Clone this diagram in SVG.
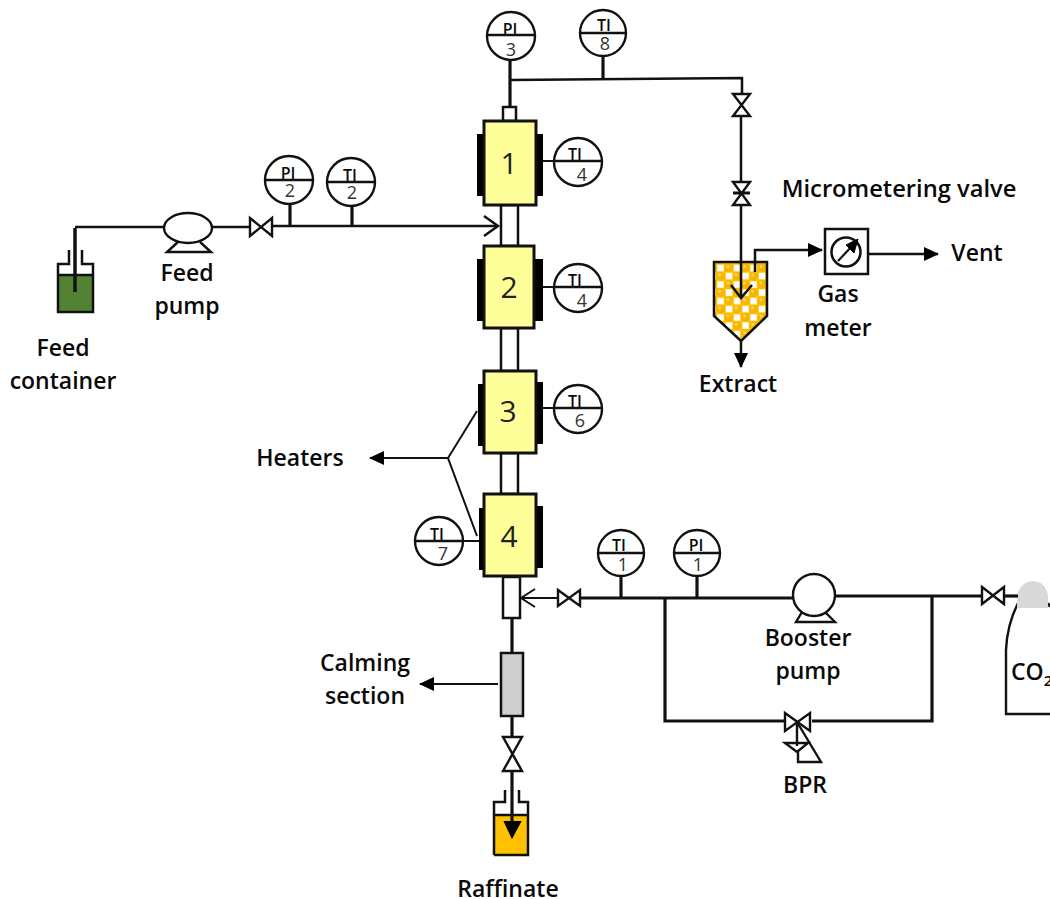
<svg xmlns="http://www.w3.org/2000/svg" width="1050" height="899" viewBox="0 0 1050 899">
<style>
text{font-family:"Open Sans","Noto Sans","DejaVu Sans",sans-serif;fill:#0a0a0a}
.lbl{font-size:23px;font-weight:600;text-anchor:middle}
.g{fill:#fff;stroke:#111;stroke-width:2.4}
.gl{stroke:#111;stroke-width:2.4;fill:none}
.gt{font-size:16px;font-weight:600;text-anchor:middle}
.gn{font-size:18px;text-anchor:middle;fill:#333}
.p{fill:none;stroke:#111;stroke-width:2.5}
.pb{fill:none;stroke:#111;stroke-width:3.2}
.t{fill:none;stroke:#111;stroke-width:2}
.v{fill:#fff;stroke:#111;stroke-width:2.4}
.box{fill:#ffff99;stroke:#111;stroke-width:3}
.tube{fill:#fff;stroke:#111;stroke-width:2.5}
.h{fill:#000}
.num{font-size:30px;text-anchor:middle;fill:#222}
</style>
<defs>
<marker id="ah" markerUnits="userSpaceOnUse" markerWidth="16" markerHeight="14" refX="14" refY="7" orient="auto"><path d="M0 0L15 7L0 14Z" fill="#000"/></marker>
<pattern id="chk" patternUnits="userSpaceOnUse" width="16.5" height="16.5" x="708.3" y="263.8">
<rect width="16.5" height="16.5" fill="#ffc000"/>
<rect x="9" y="1" width="6.5" height="6.5" fill="#fff"/>
<rect x="1" y="9" width="6.5" height="6.5" fill="#fff"/>
<circle cx="4.2" cy="4.2" r="4.4" fill="#f7b500"/>
<circle cx="12.4" cy="12.4" r="4.4" fill="#f7b500"/>
<circle cx="3.2" cy="2.8" r="1.4" fill="#ffdc7a"/>
<circle cx="11.4" cy="11" r="1.4" fill="#ffdc7a"/>
</pattern>
</defs>

<g id="feed-container">
<path d="M58 275H93V312H58Z" fill="#548235"/>
<path class="p" d="M58 275V312H93V275M58 275V264H69V250M82 250V264H93V275M58 275H93" stroke-width="2"/>
</g>
<g id="feed-pump">
<path class="v" d="M178 242L167 252H211L200 242"/>
<ellipse class="v" cx="188" cy="228" rx="24" ry="15"/>
</g>
<g id="valve-feed"><path class="v" d="M250 218L272 236V218L250 236Z"/></g>
<g id="gauge-pi2"><circle class="g" cx="289" cy="180" r="24"/><path class="gl" d="M265 180H313"/><text class="gt" x="288" y="179">PI</text><text class="gn" x="290" y="197">2</text></g>
<g id="gauge-ti2"><circle class="g" cx="351" cy="182" r="24"/><path class="gl" d="M327 182H375"/><text class="gt" x="350" y="181">TI</text><text class="gn" x="352" y="199">2</text></g>
<g id="gauge-pi3"><circle class="g" cx="511" cy="36" r="24"/><path class="gl" d="M487 35H535"/><text class="gt" x="510" y="35">PI</text><text class="gn" x="511" y="56" font-size="20">3</text></g>
<g id="gauge-ti8"><circle class="g" cx="603" cy="33" r="23"/><path class="gl" d="M580 33H626"/><text class="gt" x="604" y="31">TI</text><text class="gn" x="605" y="50" font-size="21">8</text></g>

<g id="column">
<rect class="tube" x="503" y="107" width="13" height="14"/>
<rect class="tube" x="501" y="205" width="17" height="41"/>
<rect class="tube" x="501" y="328" width="17" height="43"/>
<rect class="tube" x="501" y="453" width="17" height="41"/>
<rect class="tube" x="503" y="577" width="17" height="41"/>
</g>
<g id="reactor-1"><rect class="h" x="477" y="134" width="8" height="62"/><rect class="h" x="535" y="134" width="8" height="62"/><rect class="box" x="484" y="121" width="52" height="84"/><text class="num" x="509" y="174">1</text></g>
<g id="reactor-2"><rect class="h" x="477" y="259" width="8" height="62"/><rect class="h" x="533" y="259" width="10" height="62"/><rect class="box" x="484" y="246" width="50" height="82"/><text class="num" x="509" y="298">2</text></g>
<g id="reactor-3"><rect class="h" x="478" y="384" width="8" height="62"/><rect class="h" x="534" y="382" width="9" height="62"/><rect class="box" x="484" y="371" width="52" height="82"/><text class="num" x="508" y="422">3</text></g>
<g id="reactor-4"><rect class="h" x="479" y="508" width="6" height="62"/><rect class="h" x="535" y="506" width="8" height="62"/><rect class="box" x="484" y="494" width="52" height="82"/><text class="num" x="509" y="547">4</text></g>

<g id="gauge-ti4a"><circle class="g" cx="578" cy="162" r="24"/><path class="gl" d="M554 161H602"/><text class="gt" x="575" y="160">TI</text><text class="gn" x="582" y="181">4</text></g>
<g id="gauge-ti4b"><circle class="g" cx="578" cy="288" r="24"/><path class="gl" d="M554 287H602"/><text class="gt" x="575" y="286">TI</text><text class="gn" x="582" y="307">4</text></g>
<g id="gauge-ti6"><circle class="g" cx="578" cy="409" r="24"/><path class="gl" d="M554 408H602"/><text class="gt" x="575" y="407">TI</text><text class="gn" x="580" y="427">6</text></g>
<g id="gauge-ti7"><circle class="g" cx="439" cy="541" r="24"/><path class="gl" d="M415 541H463"/><text class="gt" x="437" y="540">TI</text><text class="gn" x="443" y="560">7</text></g>
<g id="gauge-ti1"><circle class="g" cx="621" cy="553" r="23"/><path class="gl" d="M598 553H644"/><text class="gt" x="619" y="551">TI</text><text class="gn" x="623" y="571" font-size="20">1</text></g>
<g id="gauge-pi1"><circle class="g" cx="697" cy="553" r="23"/><path class="gl" d="M674 553H720"/><text class="gt" x="696" y="551">PI</text><text class="gn" x="698" y="571" font-size="20">1</text></g>

<g id="valve-1"><path class="v" d="M733 94H750L733 116H750Z"/></g>
<g id="valve-micro"><path class="v" d="M733 182H750L733 205H750Z"/><path d="M733 193H750" stroke="#111" stroke-width="3"/></g>
<g id="extract-vessel"><path d="M714 262H767V316L741 341L714 316Z" fill="url(#chk)" stroke="#111" stroke-width="2.5"/></g>
<g id="gas-meter"><rect x="825" y="229" width="43" height="45" fill="#fff" stroke="#111" stroke-width="2.5"/><circle cx="846" cy="252" r="14.5" fill="#fff" stroke="#111" stroke-width="2.5"/><path d="M838 261L853 245" stroke="#111" stroke-width="2.2"/><path d="M858 239L854 253L846 245Z" fill="#000" stroke="#000"/></g>
<g id="valve-co2"><path class="v" d="M982 587L1004 604V587L982 604Z"/></g>
<g id="valve-in"><path class="v" d="M558 590L580 606V590L558 606Z"/></g>
<g id="booster-pump"><path class="v" d="M802 612L796 622H835L825 612"/><circle class="v" cx="814" cy="595" r="21"/></g>
<g id="bpr"><path class="v" d="M785 713L810 731V713L785 731Z" stroke-width="2.6"/><path class="v" d="M797 722L821 762H798V750M797 722V746M785 743H808L797 752Z" fill="none" stroke-width="2"/></g>
<g id="co2-cylinder">
<path d="M1050 714H1006V650Q1007 625 1018 603M1048 603L1050 607" fill="none" stroke="#111" stroke-width="2.4"/>
<path d="M1017 608V596Q1020 582 1033 581Q1046 582 1048 596V608Z" fill="#d9d9d9"/>
<text x="1011" y="680" font-size="23" font-weight="600">CO<tspan font-size="15" dy="6">2</tspan></text>
</g>
<g id="calming-section"><rect x="501" y="653" width="22" height="63" fill="#d0cece" stroke="#111" stroke-width="2.5"/></g>
<g id="valve-raffinate"><path class="v" d="M503 737H522L503 771H522Z"/></g>
<g id="raffinate-vessel">
<path d="M494 815H528V855H494Z" fill="#ffc000"/>
<path class="p" d="M494 855V802H505V790M519 790V802H528V855H494M494 815H528" stroke-width="2"/>
</g>

<g id="connectors">
<path d="M75 228V292" stroke="#111" stroke-width="3.5" fill="none"/>
<path class="p" d="M75 227H164"/>
<path class="p" d="M212 227H250"/>
<path class="p" d="M272 226H498"/>
<path class="p" d="M484 216L498 226L484 236"/>
<path class="pb" d="M290 204V226"/>
<path class="pb" d="M352 206V226"/>
<path class="pb" d="M510 60V107"/>
<path class="p" d="M509 80L742 78V94"/>
<path class="pb" d="M603 56V80"/>
<path class="p" d="M741 116V182"/>
<path class="p" d="M741 205V298"/>
<path class="p" d="M731 285L741 298L752 285"/>
<path class="p" d="M755 272V250H822" marker-end="url(#ah)"/>
<path class="p" d="M868 254H938" marker-end="url(#ah)"/>
<path class="p" d="M741 341V367" marker-end="url(#ah)"/>
<path class="t" d="M543 161H554"/>
<path class="t" d="M543 287H554"/>
<path class="t" d="M543 408H554"/>
<path class="t" d="M463 541H479"/>
<path class="t" d="M477 411L448 458L477 536"/>
<path class="t" d="M448 458H370" marker-end="url(#ah)"/>
<path class="t" d="M557 598H521"/>
<path class="t" d="M535 589L521 598L535 607" stroke-width="2.4"/>
<path class="pb" d="M581 598H793"/>
<path class="pb" d="M621 576V598"/>
<path class="pb" d="M697 576V598"/>
<path class="pb" d="M665 598V721H785"/>
<path class="pb" d="M812 721H932V596"/>
<path class="pb" d="M835 596H982"/>
<path class="pb" d="M1004 596H1018"/>
<path class="pb" d="M512 618V653"/>
<path class="pb" d="M512 717V737"/>
<path class="pb" d="M512 771V826"/>
<path d="M505 822H520L512 837Z" fill="#000" stroke="#000" stroke-width="2"/>
<path class="t" d="M498 684H420" marker-end="url(#ah)"/>
</g>

<g id="labels">
<text class="lbl" x="63" y="356">Feed</text><text class="lbl" x="63" y="389">container</text>
<text class="lbl" x="187" y="281">Feed</text><text class="lbl" x="187" y="314">pump</text>
<text class="lbl" x="899" y="197" style="font-size:23.7px">Micrometering valve</text>
<text class="lbl" x="977" y="261">Vent</text>
<text class="lbl" x="838" y="302">Gas</text><text class="lbl" x="838" y="336">meter</text>
<text class="lbl" x="738" y="392">Extract</text>
<text class="lbl" x="300" y="466">Heaters</text>
<text class="lbl" x="365" y="671">Calming</text><text class="lbl" x="365" y="704">section</text>
<text class="lbl" x="808" y="646">Booster</text><text class="lbl" x="808" y="679">pump</text>
<text class="lbl" x="805" y="793">BPR</text>
<text class="lbl" x="508" y="897">Raffinate</text>
</g>
</svg>
